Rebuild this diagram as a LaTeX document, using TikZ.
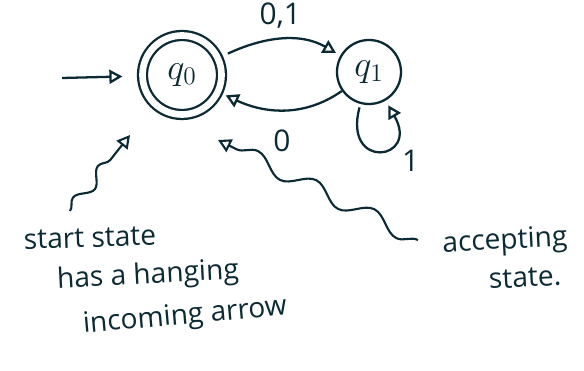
\documentclass[tikz,border=0pt]{standalone}
\usepackage{fontspec}
\setmainfont{Open Sans}
\usetikzlibrary{arrows.meta, positioning, decorations.pathmorphing}
\definecolor{ink}{RGB}{12,42,52}

\begin{document}
\begin{tikzpicture}[
    ink, line width=1.2pt,
    every node/.style={text=ink},
    state/.style={draw, circle, line width=1.3pt, font=\huge},
    note/.style={font=\fontsize{16}{18}\selectfont, inner sep=0pt},
    label style/.style={font=\fontsize{17}{20}\selectfont, inner sep=1pt},
    every edge/.style={draw, -{Triangle[open, length=2.6mm, width=2.8mm]}, line width=1.3pt},
    squiggle/.style={-{Triangle[open, length=2.6mm, width=2.8mm]}, decorate,
        decoration={snake, amplitude=1.2mm, segment length=8mm, post length=3mm}}
]
\useasboundingbox (0,0) rectangle (11.68,7.42);

% States
\node[state, double, double distance=3.8pt, minimum size=1.58cm] (q0) at (3.64,5.92) {$q_0$};
\node[state, minimum size=1.28cm] (q1) at (7.38,5.98) {$q_1$};
\coordinate (init) at (1.24,5.86);

% Edges
\path (init) edge[shorten >=0.38cm] (q0);
\path (q0) edge[out=25, in=150, shorten <=0.2cm, shorten >=0.1cm] node[label style, above=5pt] {0,1} (q1);
\path (q1) edge[out=215, in=-25, shorten >=0.15cm] node[label style, below=0.35cm] {0} (q0);
\path (q1) edge[out=255, in=300, looseness=7, shorten <=2pt, shorten >=3pt] node[label style, pos=0.7, below right=2mm] {1} (q1);

% Notes
\node[note, rotate=2] (startnote) at (1.8,2.66) {start state};
\node[note, rotate=3] (hangnote) at (2.96,1.9) {has a hanging};
\node[note, rotate=5] (arrownote) at (3.7,1.08) {incoming arrow};
\node[note, rotate=3] (acceptnote) at (10.1,2.58) {accepting};
\node[note, rotate=3] (statenote) at (10.5,1.86) {state.};

\coordinate (startfoot) at (1.4,3.2);
\coordinate (startpt) at (2.6,4.72);
\coordinate (acceptfoot) at (8.36,2.62);
\coordinate (acceptpt) at (4.36,4.62);
\draw[squiggle] (startfoot) -- (startpt);
\draw[squiggle, decoration={amplitude=1.6mm, segment length=13mm}] (acceptfoot) -- (acceptpt);

\end{tikzpicture}
\end{document}
